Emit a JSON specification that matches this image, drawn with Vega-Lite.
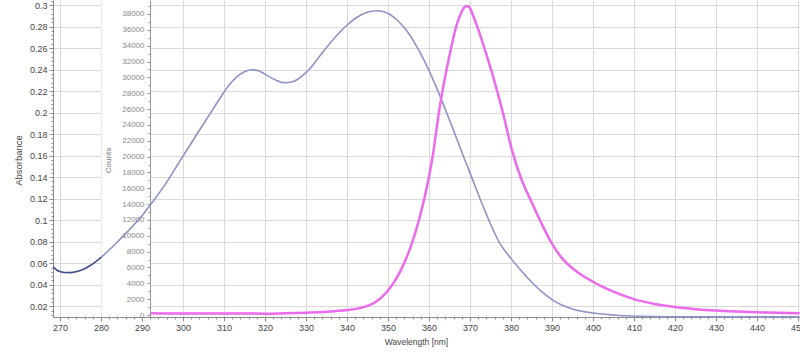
{
  "$schema": "https://vega.github.io/schema/vega-lite/v6.json",
  "width": 747,
  "height": 317,
  "autosize": {"type": "none"},
  "padding": {"left": 53, "top": 0, "right": 0, "bottom": 36},
  "background": "white",
  "config": {
    "view": {"stroke": null},
    "font": "Liberation Sans",
    "axis": {
      "labelFont": "Liberation Sans",
      "titleFont": "Liberation Sans",
      "labelColor": "#444444",
      "titleColor": "#444444",
      "domainColor": "#8c8c8c",
      "tickColor": "#8c8c8c",
      "gridColor": "#d9d9d9",
      "titleFontWeight": "normal"
    }
  },
  "datasets": {
    "absorbance": [
      {"wavelength": 268.4, "absorbance": 0.0566, "segment": "dark"},
      {"wavelength": 269.2, "absorbance": 0.0537, "segment": "dark"},
      {"wavelength": 270.0, "absorbance": 0.0522, "segment": "dark"},
      {"wavelength": 271.0, "absorbance": 0.0514, "segment": "dark"},
      {"wavelength": 272.6, "absorbance": 0.0513, "segment": "dark"},
      {"wavelength": 274.0, "absorbance": 0.0522, "segment": "dark"},
      {"wavelength": 275.5, "absorbance": 0.0540, "segment": "dark"},
      {"wavelength": 277.5, "absorbance": 0.0581, "segment": "dark"},
      {"wavelength": 280.2, "absorbance": 0.0659, "segment": "dark"},
      {"wavelength": 280.2, "absorbance": 0.0659, "segment": "light"},
      {"wavelength": 283.2, "absorbance": 0.0767, "segment": "light"},
      {"wavelength": 286.4, "absorbance": 0.0891, "segment": "light"},
      {"wavelength": 290.1, "absorbance": 0.1047, "segment": "light"},
      {"wavelength": 292.2, "absorbance": 0.1150, "segment": "light"},
      {"wavelength": 295.8, "absorbance": 0.1340, "segment": "light"},
      {"wavelength": 300.0, "absorbance": 0.1595, "segment": "light"},
      {"wavelength": 303.5, "absorbance": 0.1806, "segment": "light"},
      {"wavelength": 306.7, "absorbance": 0.1995, "segment": "light"},
      {"wavelength": 310.0, "absorbance": 0.2190, "segment": "light"},
      {"wavelength": 311.5, "absorbance": 0.2268, "segment": "light"},
      {"wavelength": 313.1, "absorbance": 0.2332, "segment": "light"},
      {"wavelength": 315.0, "absorbance": 0.2380, "segment": "light"},
      {"wavelength": 316.9, "absorbance": 0.2398, "segment": "light"},
      {"wavelength": 318.5, "absorbance": 0.2388, "segment": "light"},
      {"wavelength": 320.0, "absorbance": 0.2358, "segment": "light"},
      {"wavelength": 322.5, "absorbance": 0.2305, "segment": "light"},
      {"wavelength": 324.9, "absorbance": 0.2278, "segment": "light"},
      {"wavelength": 326.5, "absorbance": 0.2284, "segment": "light"},
      {"wavelength": 328.0, "absorbance": 0.2310, "segment": "light"},
      {"wavelength": 329.5, "absorbance": 0.2355, "segment": "light"},
      {"wavelength": 331.0, "absorbance": 0.2410, "segment": "light"},
      {"wavelength": 333.0, "absorbance": 0.2508, "segment": "light"},
      {"wavelength": 335.0, "absorbance": 0.2605, "segment": "light"},
      {"wavelength": 338.3, "absorbance": 0.2750, "segment": "light"},
      {"wavelength": 340.0, "absorbance": 0.2812, "segment": "light"},
      {"wavelength": 342.0, "absorbance": 0.2875, "segment": "light"},
      {"wavelength": 344.0, "absorbance": 0.2920, "segment": "light"},
      {"wavelength": 346.0, "absorbance": 0.2942, "segment": "light"},
      {"wavelength": 347.3, "absorbance": 0.2947, "segment": "light"},
      {"wavelength": 349.0, "absorbance": 0.2937, "segment": "light"},
      {"wavelength": 350.5, "absorbance": 0.2912, "segment": "light"},
      {"wavelength": 352.0, "absorbance": 0.2868, "segment": "light"},
      {"wavelength": 353.8, "absorbance": 0.2798, "segment": "light"},
      {"wavelength": 355.5, "absorbance": 0.2712, "segment": "light"},
      {"wavelength": 357.0, "absorbance": 0.2615, "segment": "light"},
      {"wavelength": 358.5, "absorbance": 0.2508, "segment": "light"},
      {"wavelength": 360.0, "absorbance": 0.2392, "segment": "light"},
      {"wavelength": 361.5, "absorbance": 0.2262, "segment": "light"},
      {"wavelength": 363.1, "absorbance": 0.2116, "segment": "light"},
      {"wavelength": 364.5, "absorbance": 0.1980, "segment": "light"},
      {"wavelength": 366.0, "absorbance": 0.1835, "segment": "light"},
      {"wavelength": 368.4, "absorbance": 0.1595, "segment": "light"},
      {"wavelength": 370.0, "absorbance": 0.1440, "segment": "light"},
      {"wavelength": 372.4, "absorbance": 0.1205, "segment": "light"},
      {"wavelength": 374.9, "absorbance": 0.0975, "segment": "light"},
      {"wavelength": 377.3, "absorbance": 0.0785, "segment": "light"},
      {"wavelength": 380.0, "absorbance": 0.0645, "segment": "light"},
      {"wavelength": 382.5, "absorbance": 0.0530, "segment": "light"},
      {"wavelength": 385.0, "absorbance": 0.0425, "segment": "light"},
      {"wavelength": 387.5, "absorbance": 0.0335, "segment": "light"},
      {"wavelength": 390.0, "absorbance": 0.0262, "segment": "light"},
      {"wavelength": 392.5, "absorbance": 0.0210, "segment": "light"},
      {"wavelength": 395.0, "absorbance": 0.0175, "segment": "light"},
      {"wavelength": 400.0, "absorbance": 0.0137, "segment": "light"},
      {"wavelength": 405.7, "absorbance": 0.0116, "segment": "light"},
      {"wavelength": 413.8, "absorbance": 0.0104, "segment": "light"},
      {"wavelength": 420.0, "absorbance": 0.0102, "segment": "light"},
      {"wavelength": 430.0, "absorbance": 0.0101, "segment": "light"},
      {"wavelength": 440.0, "absorbance": 0.0101, "segment": "light"},
      {"wavelength": 450.4, "absorbance": 0.0101, "segment": "light"}
    ],
    "fluorescence": [
      {"wavelength": 292.0, "counts": 220},
      {"wavelength": 295.0, "counts": 200},
      {"wavelength": 300.0, "counts": 190},
      {"wavelength": 305.0, "counts": 200},
      {"wavelength": 310.0, "counts": 180},
      {"wavelength": 315.0, "counts": 190},
      {"wavelength": 320.0, "counts": 170},
      {"wavelength": 325.0, "counts": 220},
      {"wavelength": 330.0, "counts": 290},
      {"wavelength": 335.0, "counts": 400},
      {"wavelength": 340.0, "counts": 620},
      {"wavelength": 343.0, "counts": 870},
      {"wavelength": 345.0, "counts": 1150},
      {"wavelength": 347.0, "counts": 1650},
      {"wavelength": 348.5, "counts": 2250},
      {"wavelength": 350.0, "counts": 3100},
      {"wavelength": 351.5, "counts": 4150},
      {"wavelength": 353.0, "counts": 5500},
      {"wavelength": 354.5, "counts": 7200},
      {"wavelength": 356.0, "counts": 9300},
      {"wavelength": 357.5, "counts": 11900},
      {"wavelength": 359.0, "counts": 15000},
      {"wavelength": 360.8, "counts": 19700},
      {"wavelength": 362.7, "counts": 26500},
      {"wavelength": 364.7, "counts": 32000},
      {"wavelength": 366.8, "counts": 36700},
      {"wavelength": 368.0, "counts": 38300},
      {"wavelength": 368.8, "counts": 38920},
      {"wavelength": 369.5, "counts": 39000},
      {"wavelength": 370.0, "counts": 38720},
      {"wavelength": 371.0, "counts": 37500},
      {"wavelength": 372.4, "counts": 35500},
      {"wavelength": 374.0, "counts": 32900},
      {"wavelength": 375.7, "counts": 30000},
      {"wavelength": 378.1, "counts": 25400},
      {"wavelength": 380.2, "counts": 20900},
      {"wavelength": 382.5, "counts": 17200},
      {"wavelength": 385.0, "counts": 14300},
      {"wavelength": 387.5, "counts": 11500},
      {"wavelength": 390.0, "counts": 9000},
      {"wavelength": 392.5, "counts": 7150},
      {"wavelength": 395.0, "counts": 5900},
      {"wavelength": 397.5, "counts": 4950},
      {"wavelength": 400.0, "counts": 4200},
      {"wavelength": 402.5, "counts": 3520},
      {"wavelength": 405.0, "counts": 2950},
      {"wavelength": 410.0, "counts": 2000},
      {"wavelength": 415.0, "counts": 1400},
      {"wavelength": 420.0, "counts": 1000},
      {"wavelength": 425.0, "counts": 740},
      {"wavelength": 430.0, "counts": 560},
      {"wavelength": 435.0, "counts": 440},
      {"wavelength": 440.0, "counts": 350},
      {"wavelength": 445.0, "counts": 280},
      {"wavelength": 450.4, "counts": 220}
    ]
  },
  "layer": [
    {
      "data": {"values": [{}]},
      "mark": {"type": "rect", "fill": "white"},
      "encoding": {
        "x": {"datum": 280.15, "type": "quantitative", "scale": {"domain": [268.3, 450.5], "nice": false, "zero": false}, "axis": null},
        "x2": {"datum": 291.9}
      }
    },
    {
      "data": {"name": "absorbance"},
      "mark": {"type": "line", "strokeWidth": 1.6, "interpolate": "monotone"},
      "encoding": {
        "x": {
          "field": "wavelength", "type": "quantitative",
          "scale": {"domain": [268.3, 450.5], "nice": false, "zero": false},
          "axis": {
            "orient": "bottom",
            "values": [270, 280, 290, 300, 310, 320, 330, 340, 350, 360, 370, 380, 390, 400, 410, 420, 430, 440, 450],
            "format": "d",
            "title": "Wavelength [nm]",
            "grid": true,
            "tickSize": 4,
            "labelPadding": 2,
            "labelFontSize": 9,
            "labelFlush": false,
            "labelOverlap": false,
            "labelBound": false,
            "titleFontSize": 8.5,
            "titleX": 363,
            "titleY": 24,
            "titleBaseline": "middle",
            "titleAlign": "center"
          }
        },
        "y": {
          "field": "absorbance", "type": "quantitative",
          "scale": {"domain": [0.01, 0.3047], "nice": false, "zero": false},
          "axis": {
            "orient": "left",
            "values": [0.02, 0.04, 0.06, 0.08, 0.1, 0.12, 0.14, 0.16, 0.18, 0.2, 0.22, 0.24, 0.26, 0.28, 0.3],
            "format": ".2~f",
            "title": "Absorbance",
            "grid": true,
            "tickSize": 4,
            "labelPadding": 2,
            "labelFontSize": 9,
            "labelOverlap": false,
            "labelBound": false,
            "titleFontSize": 9.5,
            "titleX": -35,
            "titleY": 160,
            "titleAngle": -90,
            "titleAlign": "center",
            "titleBaseline": "middle"
          }
        },
        "color": {
          "field": "segment", "type": "nominal",
          "scale": {"domain": ["dark", "light"], "range": ["#44508c", "#8d93c4"]},
          "legend": null
        }
      }
    },
    {
      "data": {"name": "fluorescence"},
      "mark": {"type": "line", "color": "#ec6aec", "strokeWidth": 2.5, "interpolate": "monotone"},
      "encoding": {
        "x": {"field": "wavelength", "type": "quantitative", "scale": {"domain": [268.3, 450.5], "nice": false, "zero": false}, "axis": null},
        "y": {
          "field": "counts", "type": "quantitative",
          "scale": {"domain": [-252, 39767], "nice": false, "zero": false},
          "axis": {
            "orient": "left",
            "offset": -97,
            "values": [0, 2000, 4000, 6000, 8000, 10000, 12000, 14000, 16000, 18000, 20000, 22000, 24000, 26000, 28000, 30000, 32000, 34000, 36000, 38000],
            "format": "d",
            "title": "Counts",
            "grid": false,
            "tickSize": 3,
            "labelPadding": 3,
            "labelFontSize": 8,
            "labelColor": "#8a8a8a",
            "labelOverlap": false,
            "labelBound": false,
            "titleFontSize": 8,
            "titleColor": "#777777",
            "titleX": -42,
            "titleY": 160,
            "titleAngle": -90,
            "titleAlign": "center",
            "titleBaseline": "middle",
            "domainColor": "#9a9a9a",
            "zindex": 1
          }
        }
      }
    },
    {
      "data": {"name": "absorbance"},
      "mark": {"type": "point", "opacity": 0},
      "encoding": {
        "x": {
          "field": "wavelength", "type": "quantitative",
          "scale": {"domain": [268.3, 450.5], "nice": false, "zero": false},
          "axis": {"orient": "bottom", "tickCount": 91, "labels": false, "title": null, "grid": false, "domain": false, "tickSize": 2}
        },
        "y": {
          "field": "absorbance", "type": "quantitative",
          "scale": {"domain": [0.01, 0.3047], "nice": false, "zero": false},
          "axis": {
            "orient": "left",
            "values": [0.012, 0.016, 0.02, 0.024, 0.028, 0.032, 0.036, 0.04, 0.044, 0.048, 0.052, 0.056, 0.06, 0.064, 0.068, 0.072, 0.076, 0.08, 0.084, 0.088, 0.092, 0.096, 0.1, 0.104, 0.108, 0.112, 0.116, 0.12, 0.124, 0.128, 0.132, 0.136, 0.14, 0.144, 0.148, 0.152, 0.156, 0.16, 0.164, 0.168, 0.172, 0.176, 0.18, 0.184, 0.188, 0.192, 0.196, 0.2, 0.204, 0.208, 0.212, 0.216, 0.22, 0.224, 0.228, 0.232, 0.236, 0.24, 0.244, 0.248, 0.252, 0.256, 0.26, 0.264, 0.268, 0.272, 0.276, 0.28, 0.284, 0.288, 0.292, 0.296, 0.3, 0.304],
            "labels": false, "title": null, "grid": false, "domain": false, "tickSize": 2
          }
        }
      }
    },
    {
      "data": {"name": "fluorescence"},
      "mark": {"type": "point", "opacity": 0},
      "encoding": {
        "x": {"field": "wavelength", "type": "quantitative", "scale": {"domain": [268.3, 450.5], "nice": false, "zero": false}, "axis": null},
        "y": {
          "field": "counts", "type": "quantitative",
          "scale": {"domain": [-252, 39767], "nice": false, "zero": false},
          "axis": {"orient": "left", "offset": -97, "tickCount": 40, "labels": false, "title": null, "grid": false, "domain": false, "tickSize": 2, "tickColor": "#9a9a9a", "zindex": 1}
        }
      }
    }
  ],
  "resolve": {
    "scale": {"y": "independent"},
    "axis": {"x": "independent", "y": "independent"}
  }
}
